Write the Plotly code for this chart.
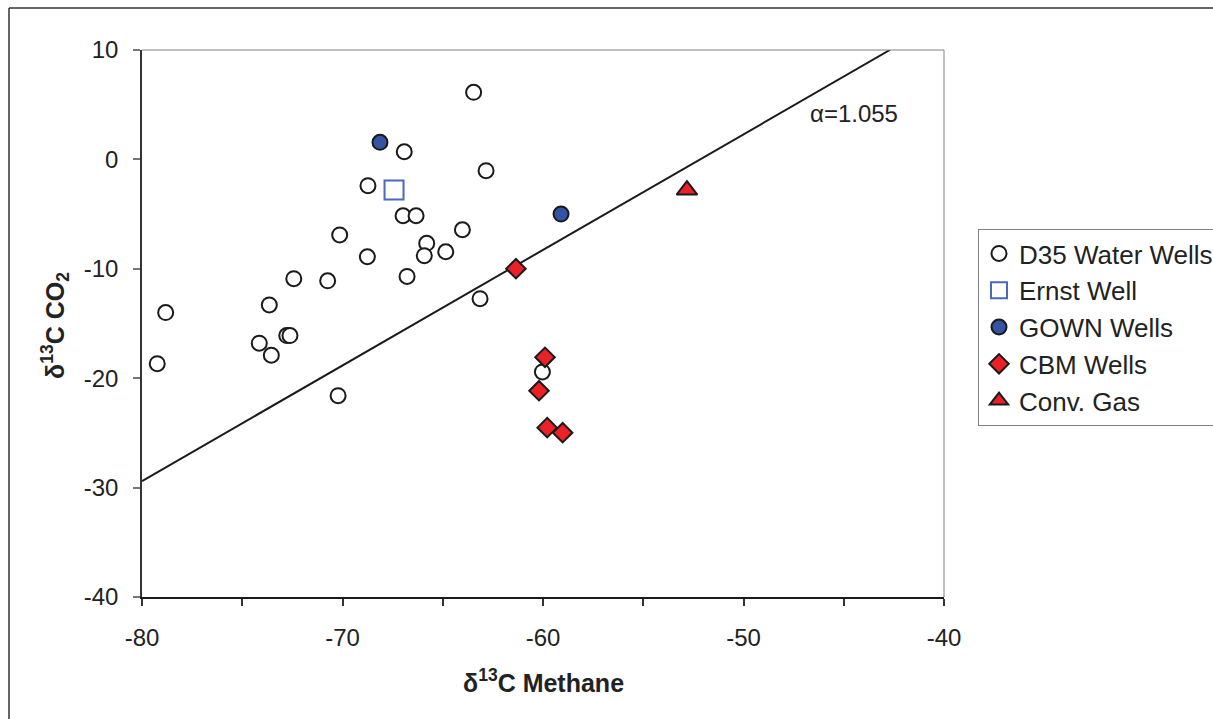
import plotly.graph_objects as go

# ---- data ----
d35_x = [-79.24, -78.82, -73.65, -74.15, -73.55, -72.78, -72.62, -72.43, -70.74, -70.14,
         -70.22, -68.76, -68.73, -66.92, -66.98, -66.33, -65.80, -65.92, -66.78, -64.85,
         -64.02, -63.46, -62.84, -63.14, -60.03]
d35_y = [-18.67, -14.0, -13.3, -16.8, -17.9, -16.1, -16.1, -10.9, -11.1, -6.9,
         -21.6, -8.9, -2.4, 0.7, -5.15, -5.15, -7.67, -8.8, -10.7, -8.44,
         -6.43, 6.13, -1.03, -12.73, -19.43]
ernst_x = [-67.43]
ernst_y = [-2.8]
gown_x = [-68.13, -59.1]
gown_y = [1.56, -5.0]
cbm_x = [-61.35, -59.9, -60.2, -59.79, -59.02]
cbm_y = [-9.99, -18.09, -21.14, -24.52, -24.98]
gas_x = [-52.82]
gas_y = [-2.8]
line_x = [-80.0, -42.7]
line_y = [-29.4, 10.0]
x_ticks = [-80, -75, -70, -65, -60, -55, -50, -45, -40]
x_labels = ["-80", "", "-70", "", "-60", "", "-50", "", "-40"]
y_ticks = [-40, -30, -20, -10, 0, 10]
y_labels = ["-40", "-30", "-20", "-10", "0", "10"]

FONT = "Liberation Sans, Arial, sans-serif"
TXT = "#222222"

fig = go.Figure()
fig.add_trace(go.Scatter(x=line_x, y=line_y, mode="lines", showlegend=False,
                         line=dict(color="#1a1a1a", width=2), hoverinfo="skip"))
fig.add_trace(go.Scatter(x=d35_x, y=d35_y, mode="markers", name="D35 Water Wells",
                         marker=dict(symbol="circle", size=15, color="white",
                                     line=dict(color="#1a1a1a", width=2))))
fig.add_trace(go.Scatter(x=ernst_x, y=ernst_y, mode="markers", name="Ernst Well",
                         marker=dict(symbol="square", size=19, color="white",
                                     line=dict(color="#4a68bd", width=2))))
fig.add_trace(go.Scatter(x=gown_x, y=gown_y, mode="markers", name="GOWN Wells",
                         marker=dict(symbol="circle", size=15, color="#3553a3",
                                     line=dict(color="#1a1a1a", width=2))))
fig.add_trace(go.Scatter(x=cbm_x, y=cbm_y, mode="markers", name="CBM Wells",
                         marker=dict(symbol="diamond", size=15, color="#ec2027",
                                     line=dict(color="#1a1a1a", width=2))))
fig.add_trace(go.Scatter(x=gas_x, y=gas_y, mode="markers", name="Conv. Gas",
                         marker=dict(symbol="triangle-up", size=18, color="#ec2027",
                                     line=dict(color="#1a1a1a", width=2))))

L, R, T, B = 142, 944, 50, 597
W, H = 1213, 719
def px(x):
    return (x - L) / (R - L)
def py(y):
    return (B - y) / (B - T)

shapes = [
    # plot area top and right borders (gray)
    dict(type="line", xref="paper", yref="paper", x0=0, x1=1, y0=1, y1=1,
         line=dict(color="#808080", width=1)),
    dict(type="line", xref="paper", yref="paper", x0=1, x1=1, y0=0, y1=1,
         line=dict(color="#808080", width=1)),
    # outer frame
    dict(type="line", xref="paper", yref="paper", x0=px(9), x1=px(9), y0=py(8), y1=py(H + 5),
         line=dict(color="#333333", width=1.5)),
    dict(type="line", xref="paper", yref="paper", x0=px(9), x1=px(W + 5), y0=py(8), y1=py(8),
         line=dict(color="#333333", width=1.5)),
]

annotations = [
    dict(text="α=1.055", x=-44.5, y=4.2, xref="x", yref="y", showarrow=False,
         font=dict(family=FONT, size=24, color=TXT)),
    dict(text="<b>δ<sup>13</sup>C Methane</b>", x=0.5, y=py(681), xref="paper", yref="paper",
         showarrow=False, xanchor="center", yanchor="middle",
         font=dict(family=FONT, size=25, color=TXT)),
    dict(text="<b>δ<sup>13</sup>C CO<sub>2</sub></b>", x=px(55), y=py(326), xref="paper",
         yref="paper", showarrow=False, xanchor="center", yanchor="middle", textangle=-90,
         font=dict(family=FONT, size=25, color=TXT)),
]

fig.update_layout(
    width=W, height=H,
    margin=dict(l=L, r=W - R, t=T, b=H - B, autoexpand=False),
    paper_bgcolor="white", plot_bgcolor="white",
    showlegend=True,
    legend=dict(x=px(978), y=py(229), xanchor="left", yanchor="top",
                bordercolor="#808080", borderwidth=1, bgcolor="white",
                font=dict(family=FONT, size=26, color=TXT)),
    shapes=shapes, annotations=annotations,
    xaxis=dict(range=[-80, -40], tickvals=x_ticks, ticktext=x_labels,
               ticks="outside", ticklen=7, tickcolor="#333333", tickwidth=1.5,
               showline=True, linecolor="#1a1a1a", linewidth=2,
               showgrid=False, zeroline=False, ticklabelstandoff=11,
               tickfont=dict(family=FONT, size=24, color=TXT)),
    yaxis=dict(range=[-40, 10], tickvals=y_ticks, ticktext=y_labels,
               ticks="outside", ticklen=7,
               tickcolor="#777777", tickwidth=1.5,
               showline=True, linecolor="#333333", linewidth=1.5,
               showgrid=False, zeroline=False, ticklabelstandoff=10,
               tickfont=dict(family=FONT, size=24, color=TXT)),
)

fig.write_html("out.html")
